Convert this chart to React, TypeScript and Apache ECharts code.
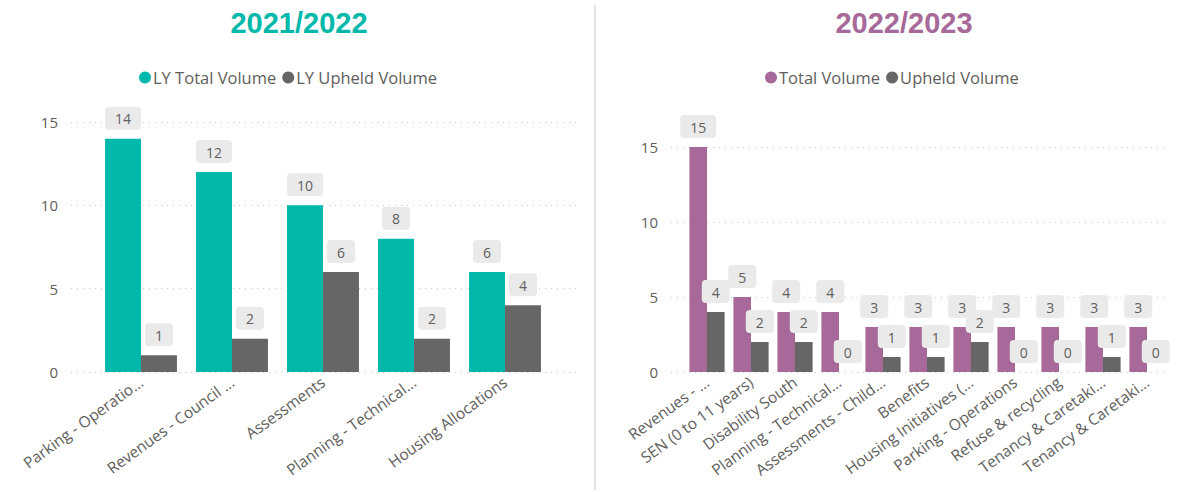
import React, { useEffect, useRef } from "react";
import * as echarts from "echarts";

const leftCategories = [
  "Parking - Operatio...",
  "Revenues - Council ...",
  "Assessments",
  "Planning - Technical...",
  "Housing Allocations",
];
const lyTotalVolume = [14, 12, 10, 8, 6];
const lyUpheldVolume = [1, 2, 6, 2, 4];

const rightCategories = [
  "Revenues - ...",
  "SEN (0 to 11 years)",
  "Disability South",
  "Planning - Technical...",
  "Assessments - Child...",
  "Benefits",
  "Housing Initiatives (...",
  "Parking - Operations",
  "Refuse & recycling",
  "Tenancy & Caretaki...",
  "Tenancy & Caretaki...",
];
const totalVolume = [15, 5, 4, 4, 3, 3, 3, 3, 3, 3, 3];
const upheldVolume = [4, 2, 2, 0, 1, 1, 2, 0, 0, 1, 0];

const yTicksMax = 15;
const yTickInterval = 5;

const TEAL = "#01B8AA";
const PURPLE = "#A66999";
const GREY = "#666666";
const TEXT = "#605E5C";
const FONT = "'Open Sans', 'Noto Sans', sans-serif";

const labelStyle = {
  show: true,
  position: "top" as const,
  distance: 9,
  color: TEXT,
  fontSize: 14,
  fontFamily: FONT,
  backgroundColor: "#EAEAEA",
  borderRadius: 4,
  padding: [5, 10, 4, 10],
};

const splitLineStyle = {
  show: true,
  lineStyle: { color: "#C8C8C8", type: [1, 5] as any, width: 1 },
};

export default function App() {
  const ref = useRef<HTMLDivElement>(null);
  useEffect(() => {
    if (!ref.current) return;
    const chart = echarts.init(ref.current, null, { renderer: "svg" });
    const xLabel = {
      rotate: 36,
      margin: 8,
      color: TEXT,
      fontSize: 15.5,
      fontFamily: FONT,
      interval: 0,
    };
    const yLabel = { color: TEXT, fontSize: 15, fontFamily: FONT, margin: 13 };
    const legendText = { color: TEXT, fontSize: 16.5, fontFamily: FONT, padding: [0, 0, 0, -3] };
    chart.setOption({
      animation: false,
      backgroundColor: "#FFFFFF",
      title: [
        {
          text: "2021/2022",
          left: 294,
          top: 3,
          textAlign: "center",
          textStyle: { color: TEAL, fontSize: 29, fontWeight: "bold", fontFamily: "'Liberation Sans', Arial, sans-serif" },
        },
        {
          text: "2022/2023",
          left: 899,
          top: 3,
          textAlign: "center",
          textStyle: { color: PURPLE, fontSize: 29, fontWeight: "bold", fontFamily: "'Liberation Sans', Arial, sans-serif" },
        },
      ],
      legend: [
        {
          data: ["LY Total Volume", "LY Upheld Volume"],
          left: 134,
          top: 64,
          icon: "circle",
          itemWidth: 12,
          itemHeight: 12,
          itemGap: 6,
          textStyle: legendText,
        },
        {
          data: ["Total Volume", "Upheld Volume"],
          left: 760,
          top: 64,
          icon: "circle",
          itemWidth: 12,
          itemHeight: 12,
          itemGap: 6,
          textStyle: legendText,
        },
      ],
      graphic: [
        {
          type: "line",
          shape: { x1: 595, y1: 5, x2: 595, y2: 490 },
          style: { stroke: "#E3E3E3", lineWidth: 2 },
        },
      ],
      grid: [
        { left: 95.5, width: 455, top: 122, bottom: 120 },
        { left: 71, width: 508, top: 122, bottom: 120 },
        { left: 685, width: 484, top: 147, bottom: 120 },
        { left: 671, width: 497, top: 147, bottom: 120 },
      ],
      xAxis: [
        {
          type: "category",
          gridIndex: 0,
          data: leftCategories,
          axisLine: { show: false },
          axisTick: { show: false },
          axisLabel: xLabel,
        },
        { type: "value", gridIndex: 1, show: false, min: 0, max: 1 },
        {
          type: "category",
          gridIndex: 2,
          data: rightCategories,
          axisLine: { show: false },
          axisTick: { show: false },
          axisLabel: xLabel,
        },
        { type: "value", gridIndex: 3, show: false, min: 0, max: 1 },
      ],
      yAxis: [
        { type: "value", gridIndex: 0, show: false, min: 0, max: yTicksMax, interval: yTickInterval },
        {
          type: "value",
          gridIndex: 1,
          min: 0,
          max: yTicksMax,
          interval: yTickInterval,
          axisLine: { show: false },
          axisTick: { show: false },
          axisLabel: yLabel,
          splitLine: splitLineStyle,
        },
        { type: "value", gridIndex: 2, show: false, min: 0, max: yTicksMax, interval: yTickInterval },
        {
          type: "value",
          gridIndex: 3,
          min: 0,
          max: yTicksMax,
          interval: yTickInterval,
          axisLine: { show: false },
          axisTick: { show: false },
          axisLabel: yLabel,
          splitLine: splitLineStyle,
        },
      ],
      series: [
        {
          name: "LY Total Volume",
          type: "bar",
          xAxisIndex: 0,
          yAxisIndex: 0,
          data: lyTotalVolume,
          itemStyle: { color: TEAL },
          barGap: "0%",
          barCategoryGap: "21%",
          label: labelStyle,
        },
        {
          name: "LY Upheld Volume",
          type: "bar",
          xAxisIndex: 0,
          yAxisIndex: 0,
          data: lyUpheldVolume,
          itemStyle: { color: GREY },
          barGap: "0%",
          barCategoryGap: "21%",
          label: labelStyle,
        },
        {
          name: "Total Volume",
          type: "bar",
          xAxisIndex: 2,
          yAxisIndex: 2,
          data: totalVolume,
          itemStyle: { color: PURPLE },
          barGap: "0%",
          barCategoryGap: "20%",
          label: labelStyle,
        },
        {
          name: "Upheld Volume",
          type: "bar",
          xAxisIndex: 2,
          yAxisIndex: 2,
          data: upheldVolume,
          itemStyle: { color: GREY },
          barGap: "0%",
          barCategoryGap: "20%",
          label: labelStyle,
        },
      ],
    });
    return () => chart.dispose();
  }, []);
  return (
    <div
      ref={ref}
      style={{ position: "absolute", left: 0, top: 0, width: 1184, height: 492 }}
    />
  );
}
